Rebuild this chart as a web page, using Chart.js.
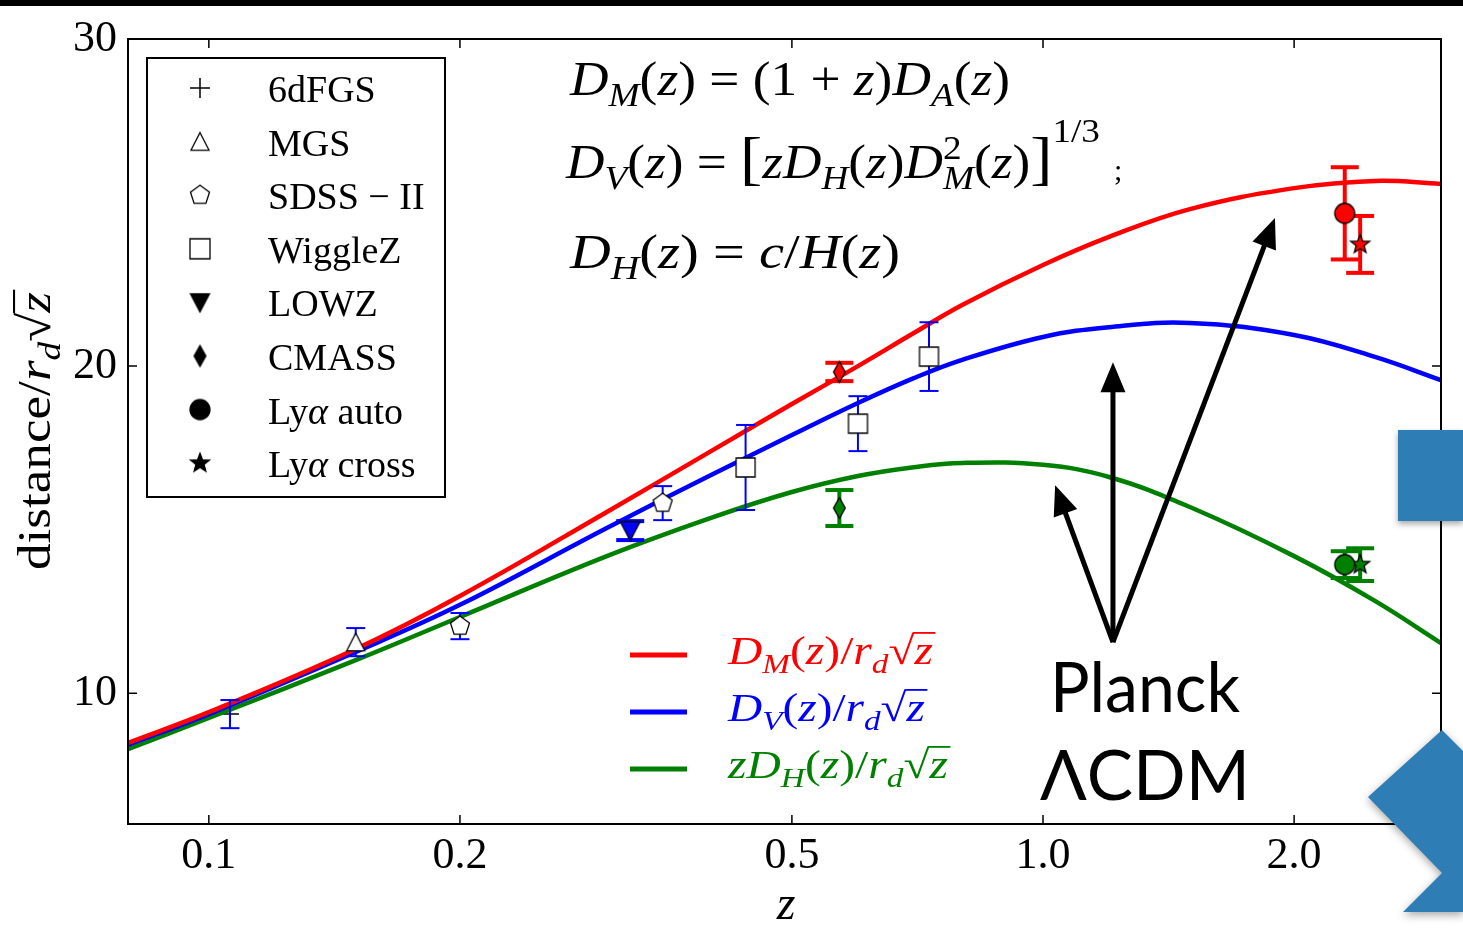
<!DOCTYPE html>
<html><head><meta charset="utf-8">
<script src="https://cdn.jsdelivr.net/npm/chart.js@4.4.0/dist/chart.umd.min.js"></script>
<style>
html,body{margin:0;padding:0;background:#fff;overflow:hidden}
#wrap{position:relative;width:1463px;height:944px}
canvas{position:absolute;left:0;top:0}
.topbar{position:absolute;left:0;top:0;width:1463px;height:6px;background:#000}
.rect{position:absolute;left:1398px;top:430px;width:65px;height:91px;background:#2f7db5;box-shadow:0 3px 6px rgba(0,0,0,.35)}
.chev{position:absolute;left:1368px;top:730px;width:95px;height:182px;filter:drop-shadow(0 3px 4px rgba(0,0,0,.35))}
.chev div{width:100%;height:100%;background:#2f7db5;clip-path:polygon(74px 0,95px 21px,95px 182px,35px 182px,74px 143px,0 67px)}
</style></head>
<body><div id="wrap"><canvas id="c" width="1463" height="944"></canvas><div class="topbar"></div><div class="rect"></div><div class="chev"><div></div></div></div>
<script>
// ---------------- data ----------------
const curveZ  = [0.08, 0.1, 0.15, 0.2, 0.3, 0.4, 0.5, 0.6, 0.7, 0.8, 1.0, 1.2, 1.5, 2.0, 2.5, 3.0];
const dmCurve = [8.48, 9.42, 11.35, 12.97, 15.54, 17.40, 18.84, 20.00, 21.01, 21.87, 23.09, 23.95, 24.80, 25.44, 25.66, 25.57];
const dvCurve = [8.42, 9.36, 11.26, 12.70, 15.05, 16.67, 17.89, 18.87, 19.63, 20.19, 20.89, 21.19, 21.32, 20.95, 20.28, 19.57];
const dhCurve = [8.29, 9.24, 11.01, 12.33, 14.19, 15.36, 16.15, 16.64, 16.91, 17.04, 16.98, 16.61, 15.69, 14.19, 12.82, 11.53];

const z6dF = [0.106], dv6dF = [9.36], err6dF = [0.43];
const zMGS = [0.15], dvMGS = [11.56], errMGS = [0.43];
const zSDSS = [0.2, 0.35], dvSDSS = [12.05, 15.81], errSDSS = [0.40, 0.52];
const zWig = [0.44, 0.6, 0.73], dvWig = [16.90, 18.24, 20.29], errWig = [1.30, 0.84, 1.05];
const zLOWZ = [0.32], dvLOWZ = [14.97], errLOWZ = [0.29];
const zCMASS = [0.57], dmCMASS = [19.82], errDmCMASS = [0.28], dhCMASS = [15.66], errDhCMASS = [0.55];
const zLyaAuto = [2.30], dmLyaAuto = [24.67], errDmLyaAuto = [1.41], dhLyaAuto = [13.93], errDhLyaAuto = [0.41];
const zLyaCross = [2.40], dmLyaCross = [23.72], errDmLyaCross = [0.87], dhLyaCross = [13.93], errDhLyaCross = [0.50];

const xTickVals = [0.1, 0.2, 0.5, 1.0, 2.0];
const xTickLabels = ['0.1', '0.2', '0.5', '1.0', '2.0'];
const yTickVals = [10, 20, 30];
const yTickLabels = ['10', '20', '30'];
const legendLabels = ['6dFGS', 'MGS', 'SDSS − II', 'WiggleZ', 'LOWZ', 'CMASS', 'Lyα auto', 'Lyα cross'];

// annotation arrows (data coordinates): base -> tips
const arrowBase = {x: 1.213, y: 11.56};
const arrowTips = [{x: 1.034, y: 16.36}, {x: 1.213, y: 20.12}, {x: 1.897, y: 24.53}];

// ---------------- markers ----------------
const RED = '#ff0000', BLUE = '#0000ff', GREEN = '#008000';
function pathShape(g, shape, r) {
  g.beginPath();
  if (shape === 'pent') {
    for (let k = 0; k < 5; k++) { const a = -Math.PI/2 + k*2*Math.PI/5; g.lineTo(r*Math.cos(a), r*Math.sin(a)); }
  } else if (shape === 'diam') {
    g.moveTo(0, -r); g.lineTo(r*0.56, 0); g.lineTo(0, r); g.lineTo(-r*0.56, 0);
  } else if (shape === 'star') {
    for (let k = 0; k < 10; k++) { const rr = k % 2 ? r*0.42 : r; const a = -Math.PI/2 + k*Math.PI/5; g.lineTo(rr*Math.cos(a), rr*Math.sin(a)); }
  } else if (shape === 'tri') {
    g.moveTo(0, -r); g.lineTo(r, r*0.95); g.lineTo(-r, r*0.95);
  } else if (shape === 'tridown') {
    g.moveTo(0, r); g.lineTo(r, -r*0.9); g.lineTo(-r, -r*0.9);
  } else if (shape === 'sq') {
    g.rect(-r, -r, 2*r, 2*r);
  } else if (shape === 'circ') {
    g.arc(0, 0, r, 0, Math.PI*2);
  }
  g.closePath();
}
function mk(shape, r, fill) {
  const s = Math.ceil(r*2 + 6);
  const c = document.createElement('canvas'); c.width = s; c.height = s;
  const g = c.getContext('2d'); g.translate(s/2, s/2);
  pathShape(g, shape, r);
  g.fillStyle = fill; g.fill(); g.lineWidth = 1.3; g.strokeStyle = '#000'; g.lineJoin = 'miter'; g.stroke();
  return c;
}

// ---------------- datasets ----------------
const pts = (zs, vs) => zs.map((z, i) => ({x: z, y: vs[i]}));
function curve(vals, color) {
  return {data: pts(curveZ, vals), showLine: true, borderColor: color, borderWidth: 4.5, pointRadius: 0,
          tension: 0.4, order: 10};
}
function errBars(zs, vals, errs, color, thick) {
  return zs.map((z, i) => ({
    data: [{x: z, y: vals[i] - errs[i]}, {x: z, y: vals[i] + errs[i]}],
    showLine: true, borderColor: color, borderWidth: thick ? 4 : 2,
    pointStyle: 'line', pointRadius: thick ? 14 : 9.5, pointBorderColor: color,
    pointBorderWidth: thick ? 4 : 2, pointBackgroundColor: color, order: 5
  }));
}
function markers(zs, vals, style, order) {
  return {data: pts(zs, vals), showLine: false, pointStyle: style, pointRadius: 10, order: order || 1};
}

const datasets = [
  curve(dmCurve, RED), curve(dvCurve, BLUE), curve(dhCurve, GREEN),
  {data: pts(z6dF, dv6dF), showLine: false, pointStyle: 'cross', pointRadius: 9, pointBorderColor: '#000', pointBorderWidth: 1.5, order: 11},
  ...errBars(z6dF, dv6dF, err6dF, BLUE, false),
  ...errBars(zMGS, dvMGS, errMGS, BLUE, false),
  ...errBars(zSDSS, dvSDSS, errSDSS, BLUE, false),
  ...errBars(zWig, dvWig, errWig, BLUE, false),
  ...errBars(zLOWZ, dvLOWZ, errLOWZ, BLUE, true),
  ...errBars(zCMASS, dmCMASS, errDmCMASS, RED, true),
  ...errBars(zCMASS, dhCMASS, errDhCMASS, GREEN, true),
  ...errBars(zLyaAuto, dmLyaAuto, errDmLyaAuto, RED, true),
  ...errBars(zLyaAuto, dhLyaAuto, errDhLyaAuto, GREEN, true),
  ...errBars(zLyaCross, dmLyaCross, errDmLyaCross, RED, true),
  ...errBars(zLyaCross, dhLyaCross, errDhLyaCross, GREEN, true),
  markers(zMGS, dvMGS, mk('tri', 9, '#fff')),
  markers(zSDSS, dvSDSS, mk('pent', 10, '#fff')),
  markers(zWig, dvWig, mk('sq', 9.5, '#fff')),
  markers(zLOWZ, dvLOWZ, mk('tridown', 10, BLUE)),
  markers(zCMASS, dmCMASS, mk('diam', 10.5, RED)),
  markers(zCMASS, dhCMASS, mk('diam', 10.5, GREEN)),
  markers(zLyaAuto, dmLyaAuto, mk('circ', 10, RED)),
  markers(zLyaAuto, dhLyaAuto, mk('circ', 10, GREEN)),
  markers(zLyaCross, dmLyaCross, mk('star', 10, RED)),
  markers(zLyaCross, dhLyaCross, mk('star', 10, GREEN))
];

// ---------------- rich text ----------------
const FAM = '"Liberation Serif", "Times New Roman", serif';
function segFont(s, size) {
  const sz = (s.sub || s.sup) ? size*0.7 : size*(s.k || 1);
  return (s.i ? 'italic ' : '') + sz.toFixed(1) + 'px ' + FAM;
}
function segDy(s, size) { return s.sub ? size*0.22 : s.sup ? -size*(s.h || 0.42) : 0; }
function richMeasure(ctx, segs, size) {
  let w = 0;
  for (const s of segs) { ctx.font = segFont(s, size); const m = ctx.measureText(s.t).width; if (!s.na) w += m; }
  return w;
}
function drawRich(ctx, x, y, segs, size, color, fitW) {
  ctx.save(); ctx.translate(x, y);
  const nat = richMeasure(ctx, segs, size);
  if (fitW) ctx.scale(fitW/nat, 1);
  ctx.fillStyle = color; ctx.textBaseline = 'alphabetic'; ctx.textAlign = 'left';
  let cx = 0, rad = null;
  for (const s of segs) {
    ctx.font = segFont(s, size); const dy = segDy(s, size);
    ctx.fillText(s.t, cx, dy);
    const m = ctx.measureText(s.t);
    if (s.rad) rad = {x: cx + m.actualBoundingBoxRight, top: dy - m.actualBoundingBoxAscent};
    if (s.over && rad) {
      const lw = Math.max(1.5, size*0.045);
      ctx.fillRect(rad.x - 1, rad.top, cx + m.width + 2 - (rad.x - 1), lw);
    }
    if (!s.na) cx += m.width;
  }
  ctx.restore();
}
const I = (t, o) => Object.assign({t, i: true}, o || {});
const R = (t, o) => Object.assign({t}, o || {});

const eq1 = [I('D'), I('M', {sub: 1}), R('('), I('z'), R(') = (1 + '), I('z'), R(')'), I('D'), I('A', {sub: 1}), R('('), I('z'), R(')')];
const eq2 = [I('D'), I('V', {sub: 1}), R('('), I('z'), R(') = '), R('[', {k: 1.25}), I('z'), I('D'), I('H', {sub: 1}), R('('), I('z'), R(')'),
             I('D'), R('2', {sup: 1, na: 1, h: 0.4}), I('M', {sub: 1}), R('('), I('z'), R(')'), R(']', {k: 1.25}), R('1/3', {sup: 1, h: 0.75})];
const eq3 = [I('D'), I('H', {sub: 1}), R('('), I('z'), R(') = '), I('c'), R('/'), I('H'), R('('), I('z'), R(')')];
const lg1 = [I('D'), I('M', {sub: 1}), R('('), I('z'), R(')/'), I('r'), I('d', {sub: 1}), R('√', {rad: 1}), I('z', {over: 1})];
const lg2 = [I('D'), I('V', {sub: 1}), R('('), I('z'), R(')/'), I('r'), I('d', {sub: 1}), R('√', {rad: 1}), I('z', {over: 1})];
const lg3 = [I('z'), I('D'), I('H', {sub: 1}), R('('), I('z'), R(')/'), I('r'), I('d', {sub: 1}), R('√', {rad: 1}), I('z', {over: 1})];
const ytitle = [R('distance/'), I('r'), I('d', {sub: 1}), R('√', {rad: 1}), I('z', {over: 1})];

const legendMarks = [null, mk('tri', 9, '#fff'), mk('pent', 10, '#fff'), mk('sq', 10, '#fff'), mk('tridown', 9.5, '#000'),
                     mk('diam', 10.5, '#000'), mk('circ', 10, '#000'), mk('star', 10, '#000')];

function arrow(ctx, x0, y0, x1, y1) {
  const dx = x1 - x0, dy = y1 - y0, L = Math.hypot(dx, dy), ux = dx/L, uy = dy/L;
  const hl = 30, hw = 12.5;
  ctx.beginPath(); ctx.moveTo(x0, y0); ctx.lineTo(x1 - ux*hl*0.8, y1 - uy*hl*0.8); ctx.stroke();
  ctx.beginPath(); ctx.moveTo(x1, y1);
  ctx.lineTo(x1 - ux*hl - uy*hw, y1 - uy*hl + ux*hw);
  ctx.lineTo(x1 - ux*hl + uy*hw, y1 - uy*hl - ux*hw);
  ctx.closePath(); ctx.fill();
}

const deco = {
  id: 'deco',
  afterDraw(chart) {
    const {ctx, chartArea: a, scales: {x, y}} = chart;
    ctx.save();
    // frame and inner ticks
    ctx.strokeStyle = '#000'; ctx.lineWidth = 2;
    ctx.strokeRect(a.left, a.top, a.right - a.left, a.bottom - a.top);
    ctx.lineWidth = 1.5;
    ctx.beginPath();
    for (const v of xTickVals) { const px = x.getPixelForValue(v); ctx.moveTo(px, a.bottom); ctx.lineTo(px, a.bottom - 9); ctx.moveTo(px, a.top); ctx.lineTo(px, a.top + 9); }
    for (const v of yTickVals) { const py = y.getPixelForValue(v); ctx.moveTo(a.left, py); ctx.lineTo(a.left + 9, py); ctx.moveTo(a.right, py); ctx.lineTo(a.right - 9, py); }
    ctx.stroke();

    // marker legend box
    ctx.fillStyle = '#fff'; ctx.fillRect(147, 58, 298, 439);
    ctx.lineWidth = 2; ctx.strokeRect(147, 58, 298, 439);
    legendLabels.forEach((lab, i) => {
      const cy = 88 + i*53.6;
      if (i === 0) { ctx.lineWidth = 1.5; ctx.beginPath(); ctx.moveTo(190, cy); ctx.lineTo(210, cy); ctx.moveTo(200, cy - 10); ctx.lineTo(200, cy + 10); ctx.stroke(); }
      else { const m = legendMarks[i]; ctx.drawImage(m, 200 - m.width/2, cy - m.height/2); }
      const parts = lab.split('α');
      const segs = parts.length > 1 ? [R(parts[0]), I('α'), R(parts[1])] : [R(lab)];
      drawRich(ctx, 268, cy + 14, segs, 38, '#000');
    });

    // equations
    drawRich(ctx, 570, 95, eq1, 48, '#000', 440);
    drawRich(ctx, 566, 178, eq2, 48, '#000', 534);
    ctx.font = '30px ' + FAM; ctx.fillStyle = '#000'; ctx.fillText(';', 1114, 180);
    drawRich(ctx, 570, 268, eq3, 48, '#000', 330);

    // line legend
    const rows = [[655, RED, lg1, 205, 664], [712, BLUE, lg2, 197, 721], [769, GREEN, lg3, 220, 778]];
    for (const [ly, col, segs, w, by] of rows) {
      ctx.strokeStyle = col; ctx.lineWidth = 5; ctx.beginPath(); ctx.moveTo(630, ly); ctx.lineTo(687, ly); ctx.stroke();
      drawRich(ctx, 728, by, segs, 40, col, w);
    }

    // arrows
    ctx.strokeStyle = '#000'; ctx.fillStyle = '#000'; ctx.lineWidth = 5; ctx.lineCap = 'butt';
    const bx = x.getPixelForValue(arrowBase.x), by0 = y.getPixelForValue(arrowBase.y);
    for (const t of arrowTips) arrow(ctx, bx, by0, x.getPixelForValue(t.x), y.getPixelForValue(t.y));

    // Planck LCDM text
    ctx.fillStyle = '#000'; ctx.textAlign = 'left'; ctx.textBaseline = 'alphabetic';
    const fitText = (txt, tx, ty, w) => { ctx.font = '70px Lato, "Open Sans", sans-serif'; const n = ctx.measureText(txt).width; ctx.save(); ctx.translate(tx, ty); ctx.scale(w/n, 1); ctx.fillText(txt, 0, 0); ctx.restore(); };
    fitText('Planck', 1050, 712, 190);
    fitText('ΛCDM', 1040, 800, 210);

    // axis titles
    ctx.save(); ctx.translate(50, 570); ctx.rotate(-Math.PI/2);
    drawRich(ctx, 0, 0, ytitle, 46, '#000', 278);
    ctx.restore();
    ctx.font = 'italic 48px ' + FAM; ctx.textAlign = 'center'; ctx.fillText('z', 786, 919);
    ctx.restore();
  }
};

Chart.defaults.font.family = FAM;
Chart.defaults.color = '#000';
new Chart(document.getElementById('c'), {
  type: 'scatter',
  data: {datasets},
  options: {
    responsive: false, animation: false, events: [],
    layout: {padding: {left: 0, top: 39, right: 22, bottom: 0}},
    plugins: {legend: {display: false}, tooltip: {enabled: false}},
    scales: {
      x: {type: 'logarithmic', min: 0.08, max: 3.0,
          afterBuildTicks: s => { s.ticks = xTickVals.map(v => ({value: v})); },
          afterFit: s => { s.height = 120; },
          ticks: {autoSkip: false, maxRotation: 0, padding: 6, font: {size: 44}, color: '#000',
                  callback: (v, i) => xTickLabels[i]},
          grid: {display: false, drawTicks: false}, border: {display: false}},
      y: {type: 'linear', min: 6, max: 30,
          afterBuildTicks: s => { s.ticks = yTickVals.map(v => ({value: v})); },
          afterFit: s => { s.width = 128; },
          ticks: {padding: 11, font: {size: 44}, color: '#000', callback: (v, i) => yTickLabels[i]},
          grid: {display: false, drawTicks: false}, border: {display: false}}
    }
  },
  plugins: [deco]
});
</script></body></html>
